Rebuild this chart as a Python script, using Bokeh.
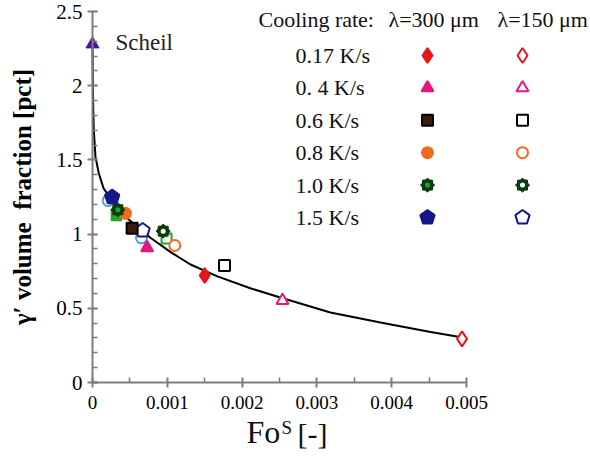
import math
from bokeh.plotting import figure
from bokeh.models import FixedTicker, CustomJSTickFormatter, Label, Range1d
from bokeh.embed import file_html
from bokeh.resources import INLINE

# ---------------- data ----------------
curve_x = [0.0, 0.0000025, 0.000006, 0.00001, 0.0000174, 0.00004, 0.000084, 0.000147,
           0.00024, 0.00035, 0.00048, 0.000775, 0.00104, 0.00131, 0.00167, 0.00211,
           0.00251, 0.00318, 0.00385, 0.00452, 0.00495]
curve_y = [2.29, 2.12, 1.96, 1.84, 1.70, 1.52, 1.41, 1.31,
           1.24, 1.17, 1.10, 0.975, 0.88, 0.795, 0.715, 0.635,
           0.573, 0.472, 0.404, 0.341, 0.303]

scheil_x = [0.0]
scheil_y = [2.28]

rate_labels = ["0.17 K/s", "0. 4 K/s", "0.6 K/s", "0.8 K/s", "1.0 K/s", "1.5 K/s"]
fo_300 = [0.00150, 0.00073, 0.00053, 0.00044, 0.000339, 0.000263]
vf_300 = [0.721, 0.908, 1.040, 1.140, 1.164, 1.249]
fo_150 = [0.00494, 0.00254, 0.001765, 0.00110, 0.000945, 0.00067]
vf_150 = [0.294, 0.553, 0.788, 0.923, 1.020, 1.024]

extra_sq_x = [0.00032, 0.00099]
extra_sq_y = [1.125, 0.970]
extra_circ_x = [0.00021, 0.000655]
extra_circ_y = [1.226, 0.975]

x_ticks = [0, 0.001, 0.002, 0.003, 0.004, 0.005]
x_minor = [0.0005, 0.0015, 0.0025, 0.0035, 0.0045]
y_ticks = [0, 0.5, 1, 1.5, 2, 2.5]
y_minor = [round(0.1 * i, 1) for i in range(26)]

# ---------------- layout helpers (pixel -> data) ----------------
PXX = 74800.0   # pixels per unit of Fo
PXY = 148.4     # pixels per unit of volume fraction
def lx(px):
    return (px - 92) / PXX
def ly(py):
    return (382 - py) / PXY

W, H = 590, 458
p = figure(width=W, height=H, output_backend="svg", toolbar_location=None,
           x_range=Range1d(lx(0), lx(W)), y_range=Range1d(ly(H), ly(0)),
           min_border=0, min_border_left=0, min_border_right=0,
           min_border_top=0, min_border_bottom=0)
p.outline_line_color = None
p.grid.visible = False
p.background_fill_color = "white"
p.border_fill_color = "white"

FONT = "Liberation Serif"
AX = "#7d7d7d"

xa = p.xaxis[0]
xa.ticker = FixedTicker(ticks=x_ticks, minor_ticks=x_minor)
xa.formatter = CustomJSTickFormatter(code="return tick.toString()")
xa.bounds = (0, 0.005)
xa.fixed_location = 0
ya = p.yaxis[0]
ya.ticker = FixedTicker(ticks=y_ticks, minor_ticks=y_minor)
ya.formatter = CustomJSTickFormatter(code="return tick.toString()")
ya.bounds = (0, 2.5)
ya.fixed_location = 0
for ax in (xa, ya):
    ax.axis_line_color = AX
    ax.axis_line_width = 2
    ax.major_tick_line_color = AX
    ax.major_tick_line_width = 2
    ax.minor_tick_line_color = AX
    ax.minor_tick_line_width = 1.5
    ax.major_tick_in = 5
    ax.major_tick_out = 5
    ax.minor_tick_in = 5
    ax.minor_tick_out = 0
    ax.major_label_text_font = FONT
    ax.major_label_text_color = "black"
xa.major_label_text_font_size = "19px"
ya.major_label_text_font_size = "21px"
xa.major_label_standoff = 8
ya.major_label_standoff = 5
ya.axis_label = "\u03b3\u2032 volume\u00a0 fraction [pct]"
ya.axis_label_text_font = FONT
ya.axis_label_text_font_style = "bold"
ya.axis_label_text_font_size = "25px"
ya.axis_label_text_color = "black"
ya.axis_label_standoff = 17

RED = "#e3171c"
MAG = "#e3187f"
BRN = "#3a1c0c"
ORG = "#f26a1b"
DGR = "#0c3b0c"
GRN = "#23a326"
NAVY = "#16168c"

def draw(kind, xs, ys, filled):
    if kind == "diamond":
        p.scatter(xs, ys, marker="diamond", size=15,
                  fill_color=RED if filled else "white", line_color=RED, line_width=2)
    elif kind == "triangle":
        p.scatter(xs, ys, marker="triangle", size=12,
                  fill_color=MAG if filled else "white", line_color=MAG, line_width=2)
    elif kind == "square":
        p.scatter(xs, ys, marker="square", size=11,
                  fill_color=BRN if filled else "white", line_color="black", line_width=2)
    elif kind == "circle":
        p.scatter(xs, ys, marker="circle", size=11,
                  fill_color=ORG if filled else "white", line_color=ORG, line_width=2)
    elif kind == "gear":
        p.scatter(xs, ys, marker="square", size=10, angle=0,
                  fill_color=DGR, line_color=DGR, line_width=1)
        p.scatter(xs, ys, marker="square", size=10, angle=math.pi / 4,
                  fill_color=DGR, line_color=DGR, line_width=1)
        p.scatter(xs, ys, marker="circle", size=5,
                  fill_color=GRN if filled else "white", line_color=None)
    elif kind == "pentagon":
        try:
            p.ngon(x=xs, y=ys, radius=7.5, radius_units="screen", n=5, angle=0,
                   fill_color=NAVY if filled else "white", line_color=NAVY, line_width=2)
        except Exception:
            p.scatter(xs, ys, marker="hex", size=13,
                      fill_color=NAVY if filled else "white", line_color=NAVY, line_width=2)

kinds = ["diamond", "triangle", "square", "circle", "gear", "pentagon"]

# curve
p.line(curve_x, curve_y, line_color="black", line_width=2)

# extra markers
p.scatter(extra_circ_x, extra_circ_y, marker="circle", size=11, fill_color="white",
          line_color="#5b9bd5", line_width=2)
p.scatter(extra_sq_x[:1], extra_sq_y[:1], marker="square", size=10, fill_color=GRN,
          line_color=GRN, line_width=1.5)
p.scatter(extra_sq_x[1:], extra_sq_y[1:], marker="square", size=10, fill_color="white",
          line_color=GRN, line_width=2)

# data markers (open first, then filled)
for i, k in enumerate(kinds):
    draw(k, [fo_150[i]], [vf_150[i]], False)
for i, k in enumerate(kinds):
    draw(k, [fo_300[i]], [vf_300[i]], True)

# Scheil
p.scatter(scheil_x, scheil_y, marker="triangle", size=13, fill_color="#4a12a3",
          line_color="#4a12a3")
p.add_layout(Label(x=lx(115), y=ly(42), text="Scheil", text_font=FONT,
                   text_font_size="23px", text_baseline="middle", text_color="#222222"))

# legend
p.add_layout(Label(x=lx(258), y=ly(19), text="Cooling rate:", text_font=FONT,
                   text_font_size="22px", text_baseline="middle", text_color="#111111"))
p.add_layout(Label(x=lx(388), y=ly(19), text="\u03bb=300 \u03bcm", text_font=FONT,
                   text_font_size="22px", text_baseline="middle", text_color="#111111"))
p.add_layout(Label(x=lx(497), y=ly(19), text="\u03bb=150 \u03bcm", text_font=FONT,
                   text_font_size="22px", text_baseline="middle", text_color="#111111"))
for i, k in enumerate(kinds):
    yy = ly(55 + 32.4 * i)
    p.add_layout(Label(x=lx(295), y=yy, text=rate_labels[i], text_font=FONT,
                       text_font_size="22px", text_baseline="middle", text_color="#111111"))
    draw(k, [lx(427)], [yy], True)
    draw(k, [lx(522)], [yy], False)

# x axis label  Fo^S [-]
p.add_layout(Label(x=lx(246), y=ly(449), text="Fo", text_font=FONT,
                   text_font_size="32px", text_color="#111111"))
p.add_layout(Label(x=lx(281), y=ly(437), text="S", text_font=FONT,
                   text_font_size="19px", text_color="#111111"))
p.add_layout(Label(x=lx(297), y=ly(449), text="[-]", text_font=FONT,
                   text_font_size="30px", text_color="#111111"))

open("out.html", "w").write(file_html(p, INLINE))
